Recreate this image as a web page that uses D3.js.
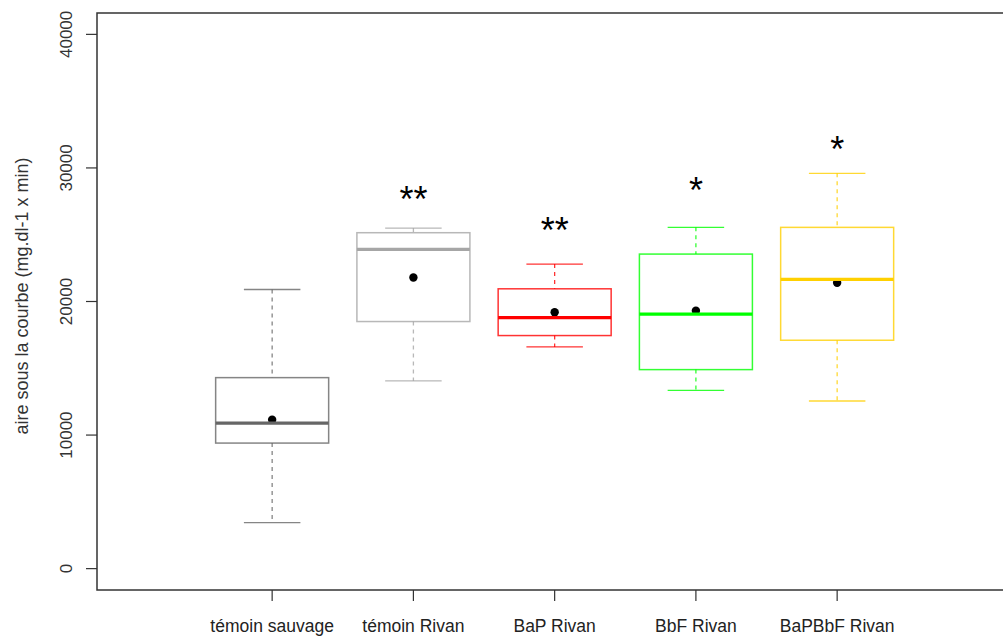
<!DOCTYPE html>
<html>
<head>
<meta charset="utf-8">
<script src="https://cdn.jsdelivr.net/npm/d3@7"></script>
<style>
  body { margin: 0; background: white; }
  svg { display: block; font-family: "Liberation Sans", Arial, sans-serif; }
</style>
</head>
<body>
<svg id="chart" width="1003" height="636"></svg>
<script>
// groups and box statistics
const groups = ["témoin sauvage", "témoin Rivan", "BaP Rivan", "BbF Rivan", "BaPBbF Rivan"];
const whiskerLow = [3450, 14050, 16600, 13350, 12550];
const q1 = [9400, 18500, 17450, 14900, 17100];
const medians = [10900, 23900, 18800, 19050, 21660];
const q3 = [14300, 25150, 20950, 23550, 25550];
const whiskerHigh = [20900, 25500, 22800, 25550, 29600];
const means = [11150, 21800, 19200, 19310, 21400];
const stars = ["", "**", "**", "*", "*"];
const starLevel = [0, 28250, 25950, 28950, 32000];
const colors = ["#666666", "#a6a6a6", "#ff0000", "#00ff00", "#ffd000"];
const yTicks = [0, 10000, 20000, 30000, 40000];

const svg = d3.select("#chart");

let plotLeft = 97, plotTop = 13, plotBottom = 590;

// R style: xlim c(0,6) and ylim c(0,40000) with 4% padding
var x = d3.scaleLinear()
    .domain([-0.24, 6.24])
    .range([plotLeft, plotLeft + 6.48 * 141.25]);

var y = d3.scaleLinear()
    .domain([-1600, 41600])
    .range([plotBottom, plotTop]);

let data = groups.map((g, i) => ({
  name: g, pos: i + 1,
  lo: whiskerLow[i], q1: q1[i], med: medians[i], q3: q3[i], hi: whiskerHigh[i],
  mean: means[i], star: stars[i], starY: starLevel[i], color: colors[i]
}));

// mean points go first, the boxes are drawn on top of them
svg.selectAll(".mean")
    .data(data)
    .enter()
    .append("circle")
      .attr("cx", d => x(d.pos))
      .attr("cy", d => y(d.mean))
      .attr("r", 4.2)
      .style("fill", "black");

let boxes = svg.selectAll(".box")
    .data(data)
    .enter()
    .append("g")
      .attr("class", "box");

// whiskers
boxes.append("line")
    .attr("x1", d => x(d.pos)).attr("x2", d => x(d.pos))
    .attr("y1", d => y(d.hi)).attr("y2", d => y(d.q3))
    .attr("stroke", d => d.color).attr("stroke-opacity", 0.8)
    .attr("stroke-width", 1.3).attr("stroke-dasharray", "4,4");
boxes.append("line")
    .attr("x1", d => x(d.pos)).attr("x2", d => x(d.pos))
    .attr("y1", d => y(d.q1)).attr("y2", d => y(d.lo))
    .attr("stroke", d => d.color).attr("stroke-opacity", 0.8)
    .attr("stroke-width", 1.3).attr("stroke-dasharray", "4,4");

// staples
["hi", "lo"].forEach(k => {
  boxes.append("line")
      .attr("x1", d => x(d.pos - 0.2)).attr("x2", d => x(d.pos + 0.2))
      .attr("y1", d => y(d[k])).attr("y2", d => y(d[k]))
      .attr("stroke", d => d.color).attr("stroke-opacity", 0.8)
      .attr("stroke-width", 1.3);
});

// box
boxes.append("rect")
    .attr("x", d => x(d.pos - 0.4))
    .attr("y", d => y(d.q3))
    .attr("width", d => x(d.pos + 0.4) - x(d.pos - 0.4))
    .attr("height", d => y(d.q1) - y(d.q3))
    .style("fill", "none")
    .attr("stroke", d => d.color).attr("stroke-opacity", 0.8)
    .attr("stroke-width", 1.5);

// median
boxes.append("line")
    .attr("x1", d => x(d.pos - 0.4)).attr("x2", d => x(d.pos + 0.4))
    .attr("y1", d => y(d.med)).attr("y2", d => y(d.med))
    .attr("stroke", d => d.color)
    .attr("stroke-width", 3.2);

// significance stars
svg.selectAll(".star")
    .data(data.filter(d => d.star))
    .enter()
    .append("text")
      .attr("x", d => x(d.pos))
      .attr("y", d => y(d.starY) + 0.58 * 36)
      .attr("text-anchor", "middle")
      .attr("font-size", "36px")
      .style("fill", "#000")
      .text(d => d.star);

// frame
svg.append("rect")
    .attr("x", plotLeft).attr("y", plotTop)
    .attr("width", x.range()[1] - plotLeft)
    .attr("height", plotBottom - plotTop)
    .style("fill", "none")
    .attr("stroke", "#333")
    .attr("stroke-width", 1.5);

// y axis: ticks and rotated labels like R's las=0
var gY = svg.append("g");
gY.selectAll("line")
    .data(yTicks)
    .enter()
    .append("line")
      .attr("x1", plotLeft - 11).attr("x2", plotLeft)
      .attr("y1", d => y(d)).attr("y2", d => y(d))
      .attr("stroke", "#333").attr("stroke-width", 1.2);
gY.selectAll("text")
    .data(yTicks)
    .enter()
    .append("text")
      .attr("transform", d => "translate(72," + y(d) + ") rotate(-90)")
      .attr("text-anchor", "middle")
      .attr("font-size", "17px")
      .style("fill", "#333")
      .text(d => d);

// x axis
var gX = svg.append("g");
gX.selectAll("line")
    .data(data)
    .enter()
    .append("line")
      .attr("x1", d => x(d.pos)).attr("x2", d => x(d.pos))
      .attr("y1", plotBottom).attr("y2", plotBottom + 11)
      .attr("stroke", "#333").attr("stroke-width", 1.2);
gX.selectAll("text")
    .data(data)
    .enter()
    .append("text")
      .attr("x", d => x(d.pos))
      .attr("y", 632)
      .attr("text-anchor", "middle")
      .attr("font-size", "17.5px")
      .style("fill", "#222")
      .text(d => d.name);

// axis title
svg.append("text")
    .attr("transform", "translate(28,296) rotate(-90)")
    .attr("text-anchor", "middle")
    .attr("font-size", "18px")
    .style("fill", "#333")
    .text("aire sous la courbe (mg.dl-1 x min)");
</script>
</body>
</html>
